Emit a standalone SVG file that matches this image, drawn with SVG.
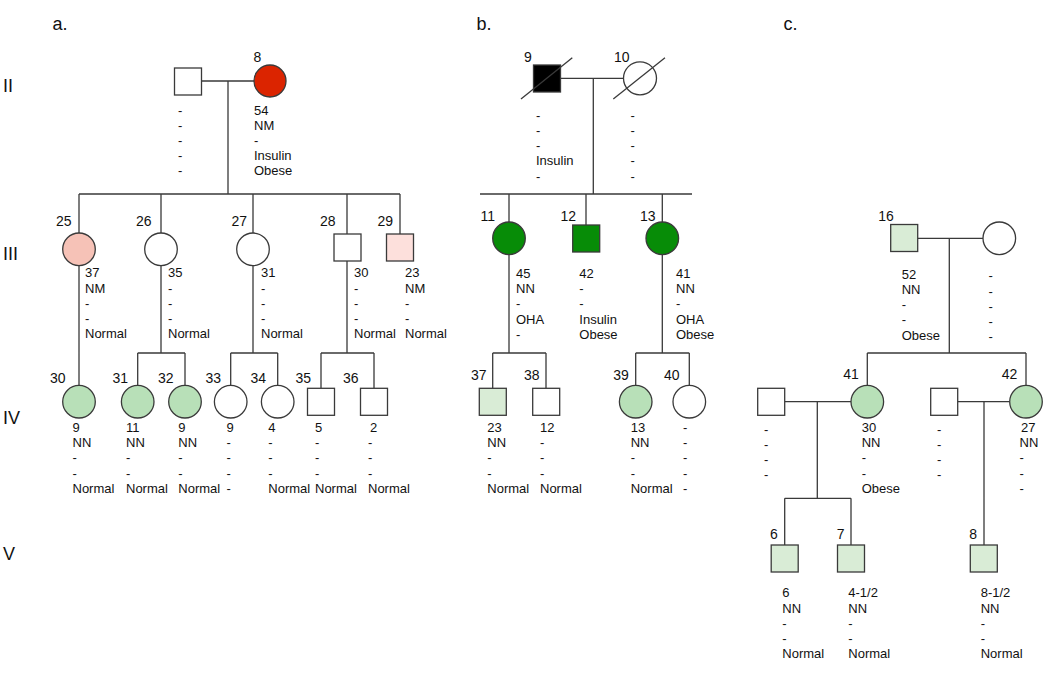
<svg xmlns="http://www.w3.org/2000/svg" width="1050" height="678" viewBox="0 0 1050 678">
<style>
.ln{stroke:#3a3a3a;stroke-width:1.3;fill:none}
.s{stroke:#3a3a3a;stroke-width:1.3}
.w{fill:#ffffff}
.red{fill:#db2400}
.sal{fill:#f6c2b7}
.pink{fill:#fde0dc}
.lg{fill:#b8e0b8}
.lgs{fill:#d9ecd6}
.dg{fill:#078c07}
.blk{fill:#000000}
text{font-family:"Liberation Sans",Arial,sans-serif;fill:#111}
.id{font-size:14px}
.d{font-size:13px}
.big{font-size:18px}
</style>
<rect width="1050" height="678" fill="#ffffff"/>

<g id="labels">
<text class="big" x="52.5" y="30">a.</text>
<text class="big" x="476.5" y="30">b.</text>
<text class="big" x="783.5" y="30">c.</text>
<text class="big" x="3" y="92">II</text>
<text class="big" x="3" y="260">III</text>
<text class="big" x="3" y="424">IV</text>
<text class="big" x="3" y="560">V</text>
</g>

<g id="connectors">
<!-- panel a -->
<path class="ln" d="M201.5 81H254M228 81V194M79 194H400M79 194V233M161 194V233M253 194V233M347 194V234M400 194V234"/>
<path class="ln" d="M79 265.6V385.4M161 265.6V353M137.7 353H185M137.7 353V385.4M185 353V385.4M253 265.6V353M230.7 353H277.7M230.7 353V385.4M277.7 353V385.4M347 261V353M321 353H374M321 353V388.3M374 353V388.3"/>
<!-- panel b -->
<path class="ln" d="M560.5 78.3H623.5M593.3 78.3V194M480 194H692M509 194V222M586 194V225M662.3 194V222"/>
<path class="ln" d="M509 254.6V353M492.7 353H546M492.7 353V388.3M546 353V388.3M662.3 254.6V353M635.7 353H689.3M635.7 353V385.4M689.3 353V385.4"/>
<!-- panel c -->
<path class="ln" d="M917.7 238.3H983M949.3 238.3V353M867.3 353H1026M867.3 353V385.4M1026 353V385.4"/>
<path class="ln" d="M784.7 401.7H851M817.3 401.7V498.3M784.7 498.3H851M784.7 498.3V545M851 498.3V545M957.7 401.7H1009.7M984 401.7V545"/>
</g>

<!-- Panel a -->
<g id="a-II-husband">
<rect class="s w" x="174.5" y="68" width="27" height="27"/>
<text class="d" x="178" y="114.5"><tspan x="178">-</tspan><tspan x="178" dy="15.2">-</tspan><tspan x="178" dy="15.2">-</tspan><tspan x="178" dy="15.2">-</tspan><tspan x="178" dy="15.2">-</tspan></text>
</g>
<g id="a-8">
<circle class="s red" cx="270" cy="81" r="16"/>
<text class="id" x="253.5" y="62">8</text>
<text class="d" x="254" y="114.5"><tspan x="254">54</tspan><tspan x="254" dy="15.2">NM</tspan><tspan x="254" dy="15.2">-</tspan><tspan x="254" dy="15.2">Insulin</tspan><tspan x="254" dy="15.2">Obese</tspan></text>
</g>
<g id="a-25">
<circle class="s sal" cx="79" cy="249.3" r="16.3"/>
<text class="id" x="56" y="226">25</text>
<text class="d" x="85" y="277.3"><tspan x="85">37</tspan><tspan x="85" dy="15.2">NM</tspan><tspan x="85" dy="15.2">-</tspan><tspan x="85" dy="15.2">-</tspan><tspan x="85" dy="15.2">Normal</tspan></text>
</g>
<g id="a-26">
<circle class="s w" cx="161" cy="249.3" r="16.3"/>
<text class="id" x="136" y="226">26</text>
<text class="d" x="168" y="277.3"><tspan x="168">35</tspan><tspan x="168" dy="15.2">-</tspan><tspan x="168" dy="15.2">-</tspan><tspan x="168" dy="15.2">-</tspan><tspan x="168" dy="15.2">Normal</tspan></text>
</g>
<g id="a-27">
<circle class="s w" cx="253" cy="249.3" r="16.3"/>
<text class="id" x="231.5" y="226">27</text>
<text class="d" x="261" y="277.3"><tspan x="261">31</tspan><tspan x="261" dy="15.2">-</tspan><tspan x="261" dy="15.2">-</tspan><tspan x="261" dy="15.2">-</tspan><tspan x="261" dy="15.2">Normal</tspan></text>
</g>
<g id="a-28">
<rect class="s w" x="334" y="234" width="27" height="27"/>
<text class="id" x="320" y="226">28</text>
<text class="d" x="354" y="277.3"><tspan x="354">30</tspan><tspan x="354" dy="15.2">-</tspan><tspan x="354" dy="15.2">-</tspan><tspan x="354" dy="15.2">-</tspan><tspan x="354" dy="15.2">Normal</tspan></text>
</g>
<g id="a-29">
<rect class="s pink" x="386.5" y="234" width="27" height="27"/>
<text class="id" x="377.5" y="226">29</text>
<text class="d" x="405" y="277.3"><tspan x="405">23</tspan><tspan x="405" dy="15.2">NM</tspan><tspan x="405" dy="15.2">-</tspan><tspan x="405" dy="15.2">-</tspan><tspan x="405" dy="15.2">Normal</tspan></text>
</g>
<g id="a-30">
<circle class="s lg" cx="79" cy="401.7" r="16.3"/>
<text class="id" x="50" y="383.3">30</text>
<text class="d" x="72.5" y="432"><tspan x="72.5">9</tspan><tspan x="72.5" dy="15.2">NN</tspan><tspan x="72.5" dy="15.2">-</tspan><tspan x="72.5" dy="15.2">-</tspan><tspan x="72.5" dy="15.2">Normal</tspan></text>
</g>
<g id="a-31">
<circle class="s lg" cx="137.7" cy="401.7" r="16.3"/>
<text class="id" x="112.5" y="383.3">31</text>
<text class="d" x="126" y="432"><tspan x="126">11</tspan><tspan x="126" dy="15.2">NN</tspan><tspan x="126" dy="15.2">-</tspan><tspan x="126" dy="15.2">-</tspan><tspan x="126" dy="15.2">Normal</tspan></text>
</g>
<g id="a-32">
<circle class="s lg" cx="185" cy="401.7" r="16.3"/>
<text class="id" x="158" y="383.3">32</text>
<text class="d" x="178.3" y="432"><tspan x="178.3">9</tspan><tspan x="178.3" dy="15.2">NN</tspan><tspan x="178.3" dy="15.2">-</tspan><tspan x="178.3" dy="15.2">-</tspan><tspan x="178.3" dy="15.2">Normal</tspan></text>
</g>
<g id="a-33">
<circle class="s w" cx="230.7" cy="401.7" r="16.3"/>
<text class="id" x="205.5" y="383.3">33</text>
<text class="d" x="226.5" y="432"><tspan x="226.5">9</tspan><tspan x="226.5" dy="15.2">-</tspan><tspan x="226.5" dy="15.2">-</tspan><tspan x="226.5" dy="15.2">-</tspan><tspan x="226.5" dy="15.2">-</tspan></text>
</g>
<g id="a-34">
<circle class="s w" cx="277.7" cy="401.7" r="16.3"/>
<text class="id" x="250.5" y="383.3">34</text>
<text class="d" x="268.3" y="432"><tspan x="268.3">4</tspan><tspan x="268.3" dy="15.2">-</tspan><tspan x="268.3" dy="15.2">-</tspan><tspan x="268.3" dy="15.2">-</tspan><tspan x="268.3" dy="15.2">Normal</tspan></text>
</g>
<g id="a-35">
<rect class="s w" x="307.5" y="388.3" width="27" height="27"/>
<text class="id" x="295.5" y="383.3">35</text>
<text class="d" x="315" y="432"><tspan x="315">5</tspan><tspan x="315" dy="15.2">-</tspan><tspan x="315" dy="15.2">-</tspan><tspan x="315" dy="15.2">-</tspan><tspan x="315" dy="15.2">Normal</tspan></text>
</g>
<g id="a-36">
<rect class="s w" x="360.5" y="388.3" width="27" height="27"/>
<text class="id" x="343" y="383.3">36</text>
<text class="d" x="368" y="432"><tspan x="370">2</tspan><tspan x="368" dy="15.2">-</tspan><tspan x="368" dy="15.2">-</tspan><tspan x="368" dy="15.2">-</tspan><tspan x="368" dy="15.2">Normal</tspan></text>
</g>

<!-- Panel b -->
<g id="b-9">
<rect class="s blk" x="533.5" y="65" width="27" height="27"/>
<line class="ln" x1="521" y1="99" x2="572.3" y2="57.7"/>
<text class="id" x="524" y="61.7">9</text>
<text class="d" x="536" y="119.8"><tspan x="536">-</tspan><tspan x="536" dy="15.2">-</tspan><tspan x="536" dy="15.2">-</tspan><tspan x="536" dy="15.2">Insulin</tspan><tspan x="536" dy="15.2">-</tspan></text>
</g>
<g id="b-10">
<circle class="s w" cx="640" cy="78.3" r="16.5"/>
<line class="ln" x1="613.3" y1="99" x2="665" y2="57.7"/>
<text class="id" x="614" y="61.7">10</text>
<text class="d" x="630.5" y="119.8"><tspan x="630.5">-</tspan><tspan x="630.5" dy="15.2">-</tspan><tspan x="630.5" dy="15.2">-</tspan><tspan x="630.5" dy="15.2">-</tspan><tspan x="630.5" dy="15.2">-</tspan></text>
</g>
<g id="b-11">
<circle class="s dg" cx="509" cy="238.3" r="16.3"/>
<text class="id" x="480.5" y="220.7">11</text>
<text class="d" x="516" y="278"><tspan x="516">45</tspan><tspan x="516" dy="15.2">NN</tspan><tspan x="516" dy="15.2">-</tspan><tspan x="516" dy="15.2">OHA</tspan><tspan x="516" dy="15.2">-</tspan></text>
</g>
<g id="b-12">
<rect class="s dg" x="572.7" y="225" width="27" height="27"/>
<text class="id" x="560.5" y="220.7">12</text>
<text class="d" x="579.3" y="278"><tspan x="579.3">42</tspan><tspan x="579.3" dy="15.2">-</tspan><tspan x="579.3" dy="15.2">-</tspan><tspan x="579.3" dy="15.2">Insulin</tspan><tspan x="579.3" dy="15.2">Obese</tspan></text>
</g>
<g id="b-13">
<circle class="s dg" cx="662.3" cy="238.3" r="16.3"/>
<text class="id" x="640" y="220.7">13</text>
<text class="d" x="676" y="278"><tspan x="676">41</tspan><tspan x="676" dy="15.2">NN</tspan><tspan x="676" dy="15.2">-</tspan><tspan x="676" dy="15.2">OHA</tspan><tspan x="676" dy="15.2">Obese</tspan></text>
</g>
<g id="b-37">
<rect class="s lgs" x="479.3" y="388.3" width="27" height="27"/>
<text class="id" x="471" y="380">37</text>
<text class="d" x="487.3" y="432"><tspan x="487.3">23</tspan><tspan x="487.3" dy="15.2">NN</tspan><tspan x="487.3" dy="15.2">-</tspan><tspan x="487.3" dy="15.2">-</tspan><tspan x="487.3" dy="15.2">Normal</tspan></text>
</g>
<g id="b-38">
<rect class="s w" x="532.7" y="388.3" width="27" height="27"/>
<text class="id" x="524" y="380">38</text>
<text class="d" x="540" y="432"><tspan x="540">12</tspan><tspan x="540" dy="15.2">-</tspan><tspan x="540" dy="15.2">-</tspan><tspan x="540" dy="15.2">-</tspan><tspan x="540" dy="15.2">Normal</tspan></text>
</g>
<g id="b-39">
<circle class="s lg" cx="635.7" cy="401.7" r="16.3"/>
<text class="id" x="613.3" y="380">39</text>
<text class="d" x="630.7" y="432"><tspan x="630.7">13</tspan><tspan x="630.7" dy="15.2">NN</tspan><tspan x="630.7" dy="15.2">-</tspan><tspan x="630.7" dy="15.2">-</tspan><tspan x="630.7" dy="15.2">Normal</tspan></text>
</g>
<g id="b-40">
<circle class="s w" cx="689.3" cy="401.7" r="16.3"/>
<text class="id" x="664" y="380">40</text>
<text class="d" x="683" y="432"><tspan x="683">-</tspan><tspan x="683" dy="15.2">-</tspan><tspan x="683" dy="15.2">-</tspan><tspan x="683" dy="15.2">-</tspan><tspan x="683" dy="15.2">-</tspan></text>
</g>

<!-- Panel c -->
<g id="c-16">
<rect class="s lgs" x="890.7" y="224.5" width="27" height="27"/>
<text class="id" x="878.3" y="220.7">16</text>
<text class="d" x="901.7" y="278.7"><tspan x="901.7">52</tspan><tspan x="901.7" dy="15.2">NN</tspan><tspan x="901.7" dy="15.2">-</tspan><tspan x="901.7" dy="15.2">-</tspan><tspan x="901.7" dy="15.2">Obese</tspan></text>
</g>
<g id="c-16-spouse">
<circle class="s w" cx="999.3" cy="238.3" r="16.3"/>
<text class="d" x="988.5" y="280.3"><tspan x="988.5">-</tspan><tspan x="988.5" dy="15.2">-</tspan><tspan x="988.5" dy="15.2">-</tspan><tspan x="988.5" dy="15.2">-</tspan><tspan x="988.5" dy="15.2">-</tspan></text>
</g>
<g id="c-41-husband">
<rect class="s w" x="757.7" y="388.3" width="27" height="27"/>
<text class="d" x="764" y="433.6"><tspan x="764">-</tspan><tspan x="764" dy="15.2">-</tspan><tspan x="764" dy="15.2">-</tspan><tspan x="764" dy="15.2">-</tspan></text>
</g>
<g id="c-41">
<circle class="s lg" cx="867.3" cy="401.7" r="16.3"/>
<text class="id" x="843.3" y="379">41</text>
<text class="d" x="861.7" y="432"><tspan x="861.7">30</tspan><tspan x="861.7" dy="15.2">NN</tspan><tspan x="861.7" dy="15.2">-</tspan><tspan x="861.7" dy="15.2">-</tspan><tspan x="861.7" dy="15.2">Obese</tspan></text>
</g>
<g id="c-42-husband">
<rect class="s w" x="930.7" y="388.3" width="27" height="27"/>
<text class="d" x="937" y="433.6"><tspan x="937">-</tspan><tspan x="937" dy="15.2">-</tspan><tspan x="937" dy="15.2">-</tspan><tspan x="937" dy="15.2">-</tspan></text>
</g>
<g id="c-42">
<circle class="s lg" cx="1026" cy="401.7" r="16.3"/>
<text class="id" x="1001.7" y="379">42</text>
<text class="d" x="1019.5" y="432"><tspan x="1021">27</tspan><tspan x="1019.5" dy="15.2">NN</tspan><tspan x="1019.5" dy="15.2">-</tspan><tspan x="1019.5" dy="15.2">-</tspan><tspan x="1019.5" dy="15.2">-</tspan></text>
</g>
<g id="c-6">
<rect class="s lgs" x="771.2" y="545" width="27" height="27"/>
<text class="id" x="770" y="539">6</text>
<text class="d" x="782.3" y="597.4"><tspan x="782.3">6</tspan><tspan x="782.3" dy="15.2">NN</tspan><tspan x="782.3" dy="15.2">-</tspan><tspan x="782.3" dy="15.2">-</tspan><tspan x="782.3" dy="15.2">Normal</tspan></text>
</g>
<g id="c-7">
<rect class="s lgs" x="837.5" y="545" width="27" height="27"/>
<text class="id" x="836.7" y="539">7</text>
<text class="d" x="848.3" y="597.4"><tspan x="848.3">4-1/2</tspan><tspan x="848.3" dy="15.2">NN</tspan><tspan x="848.3" dy="15.2">-</tspan><tspan x="848.3" dy="15.2">-</tspan><tspan x="848.3" dy="15.2">Normal</tspan></text>
</g>
<g id="c-8">
<rect class="s lgs" x="970.3" y="545" width="27" height="27"/>
<text class="id" x="969.3" y="539">8</text>
<text class="d" x="980.7" y="597.4"><tspan x="980.7">8-1/2</tspan><tspan x="980.7" dy="15.2">NN</tspan><tspan x="980.7" dy="15.2">-</tspan><tspan x="980.7" dy="15.2">-</tspan><tspan x="980.7" dy="15.2">Normal</tspan></text>
</g>
</svg>
